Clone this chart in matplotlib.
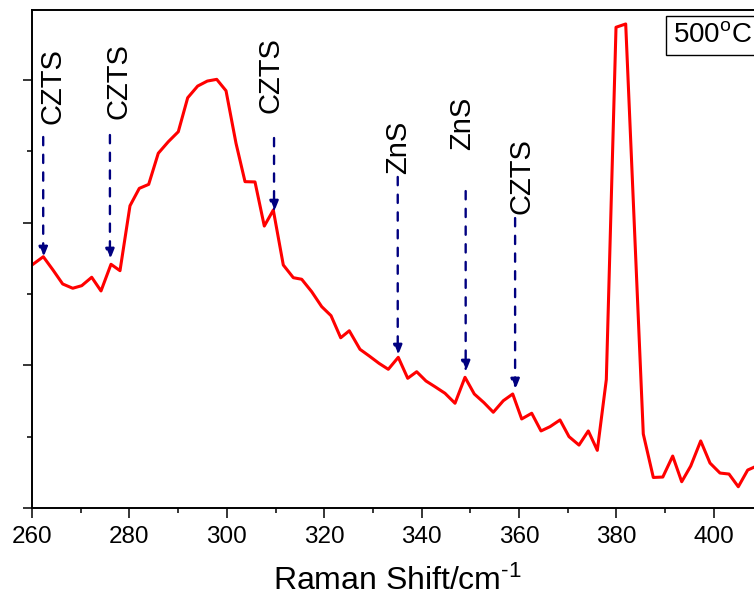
import matplotlib
matplotlib.use("Agg")
import matplotlib.pyplot as plt
from matplotlib.ticker import MultipleLocator, NullFormatter

plt.rcParams['font.family'] = ['Liberation Sans', 'DejaVu Sans']
plt.rcParams['mathtext.fontset'] = 'custom'
plt.rcParams['mathtext.rm'] = 'Liberation Sans'
plt.rcParams['mathtext.it'] = 'Liberation Sans:italic'

# Raman spectrum (intensity in arbitrary units)
shift = [260.0, 262.32, 264.31, 266.30, 268.36, 270.21, 272.26, 274.17, 276.22, 278.07,
         280.12, 282.03, 283.96, 285.93, 287.99, 290.04, 291.97, 294.02, 296.00, 297.93,
         299.84, 301.89, 303.74, 305.79, 307.70, 309.55, 311.60, 313.66, 315.38, 317.43,
         319.49, 321.40, 323.39, 325.15, 327.35, 329.26, 331.25, 333.16, 335.21, 337.15,
         338.99, 340.90, 342.75, 344.80, 346.86, 348.91, 350.82, 352.81, 354.72, 356.78,
         358.71, 360.55, 362.61, 364.52, 366.37, 368.42, 370.27, 372.32, 374.23, 376.08,
         377.93, 379.92, 381.91, 385.52, 387.58, 389.53, 391.56, 393.41, 395.26, 397.31,
         399.22, 401.27, 403.12, 405.03, 406.96, 408.80]
intensity = [1.703, 1.761, 1.668, 1.570, 1.540, 1.558, 1.617, 1.521, 1.708, 1.663,
             2.118, 2.240, 2.268, 2.486, 2.567, 2.637, 2.875, 2.957, 2.992, 3.004,
             2.924, 2.556, 2.287, 2.285, 1.976, 2.088, 1.703, 1.614, 1.603, 1.516,
             1.411, 1.348, 1.193, 1.242, 1.112, 1.065, 1.014, 0.972, 1.056, 0.909,
             0.955, 0.890, 0.850, 0.804, 0.734, 0.916, 0.799, 0.738, 0.671, 0.752,
             0.799, 0.624, 0.664, 0.540, 0.570, 0.617, 0.500, 0.441, 0.540, 0.404,
             0.900, 3.369, 3.392, 0.519, 0.214, 0.217, 0.364, 0.184, 0.294, 0.470,
             0.315, 0.245, 0.238, 0.149, 0.266, 0.294]

# peak assignments: arrow position, arrow tail/tip, label position
peak_labels = ['CZTS', 'CZTS', 'CZTS', 'ZnS', 'ZnS', 'CZTS']
peak_x = [262.3, 276.0, 309.7, 335.1, 349.05, 359.2]
arrow_tail = [2.600, 2.614, 2.593, 2.320, 2.221, 2.032]
arrow_tip = [1.752, 1.738, 2.074, 1.065, 0.953, 0.827]
label_x = [264.3, 277.7, 308.9, 335.15, 348.3, 360.6]
label_y = [2.957, 2.992, 3.034, 2.530, 2.698, 2.323]

fig = plt.figure(figsize=(7.54, 5.98), dpi=100)
ax = fig.add_axes([32 / 754, 90 / 598, 730.5 / 754, 498 / 598])

ax.plot(shift, intensity, color='#ff0000', lw=2.2)

for lab, x, tail, tip, tx, ty in zip(peak_labels, peak_x, arrow_tail, arrow_tip, label_x, label_y):
    ax.annotate('', xy=(x, tip), xytext=(x, tail),
                arrowprops=dict(arrowstyle='-|>,head_length=0.65,head_width=0.26',
                                color='#000080', lw=1.7, ls=(0, (3.5, 4)),
                                shrinkA=0, shrinkB=0))
    ax.text(tx, ty, lab, rotation=90, ha='center', va='center', fontsize=21, color='black')

ax.set_xlim(260, 410)
ax.set_ylim(0, 3.49)
ax.xaxis.set_major_locator(MultipleLocator(20))
ax.xaxis.set_minor_locator(MultipleLocator(10))
ax.yaxis.set_major_locator(MultipleLocator(1))
ax.yaxis.set_minor_locator(MultipleLocator(0.5))
ax.yaxis.set_major_formatter(NullFormatter())

for side in ['left', 'bottom', 'top', 'right']:
    ax.spines[side].set_linewidth(1.4)
ax.tick_params(axis='x', which='major', direction='out', length=7, width=1.1, labelsize=17.5, pad=6)
ax.tick_params(axis='x', which='minor', direction='out', length=3.6, width=1.1)
ax.tick_params(axis='y', which='major', direction='out', length=6.5, width=1.1)
ax.tick_params(axis='y', which='minor', direction='out', length=3.6, width=1.1)

ax.set_xlabel('Raman Shift/cm$^{\\text{-1}}$', fontsize=23, labelpad=13)

fig.text(0.997, 1 - 35.5 / 598, '500$^{\\mathrm{o}}$C', ha='right', va='center', fontsize=20,
         bbox=dict(boxstyle='square,pad=0.25', fc='white', ec='black', lw=1))

fig.savefig('out.png', dpi=100)
